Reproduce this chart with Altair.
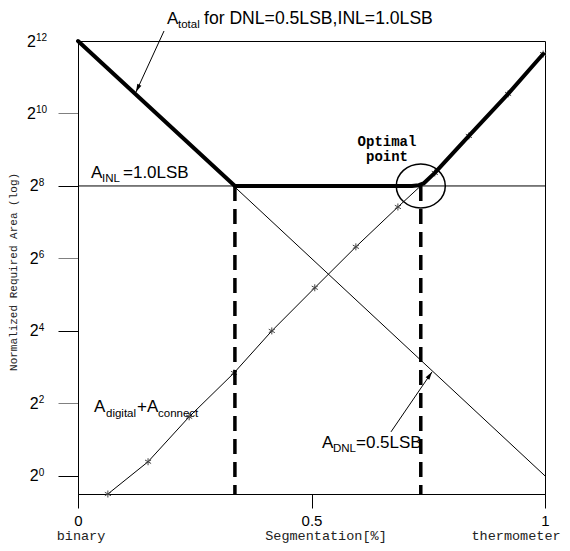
import math
import altair as alt
import pandas as pd

# ---------------- data (x = segmentation fraction, y = log2 of normalized area) -------------
seg_digital = [0.064, 0.150, 0.238, 0.334, 0.415, 0.507, 0.595, 0.685, 0.764, 0.837, 0.921, 0.996]
log2_digital = [-0.50, 0.39, 1.63, 2.84, 4.00, 5.19, 6.32, 7.42, 8.36, 9.38, 10.54, 11.64]

seg_total = [0.0, 0.336, 0.715, 0.730, 0.740, 0.764, 0.837, 0.921, 0.996]
log2_total = [12.0, 8.0, 8.0, 8.02, 8.07, 8.36, 9.38, 10.54, 11.64]

seg_dnl = [0.0, 1.0]
log2_dnl = [12.0, 0.0]

seg_inl = [0.0, 1.0]
log2_inl = [8.0, 8.0]

seg_split = [0.336, 0.734]          # dashed verticals
split_top = 8.0
optimal_seg = [0.734]
optimal_log2 = [8.0]

x_tick_values = [0, 0.5, 1]
y_tick_values = [0, 2, 4, 6, 8, 10]
y_label_exps = [0, 2, 4, 6, 8, 10, 12]

# annotation texts (main size / subscript size)
big_text = ["A", "A", "=1.0LSB", "A", "+", "A", "A", "=0.5LSB"]
big_x = [0.1906, 0.0278, 0.0964, 0.0343, 0.1263, 0.1478, 0.5225, 0.5953]
big_y = [12.469, 8.221, 8.221, 1.766, 1.766, 1.766, 0.772, 0.772]

long_text = ["for DNL=0.5LSB,INL=1.0LSB"]
long_x = [0.2698]
long_y = [12.469]

sub_text = ["total", "INL", "digital", "connect", "DNL"]
sub_x = [0.2141, 0.0514, 0.0600, 0.1713, 0.5460]
sub_y = [12.359, 8.110, 1.628, 1.628, 0.662]

opt_text = ["Optimal", "point"]
opt_x = [0.6617, 0.6617]
opt_y = [9.103, 8.69]

word_text = ["binary", "Segmentation[%]", "thermometer"]
word_x = [0.0064, 0.531, 0.9380]
word_y = [-1.769, -1.769, -1.769]

ytitle_text = ["Normalized Required Area (log)"]
ytitle_x = [-0.1381]
ytitle_y = [5.628]

arrow_tail_x = [0.1842, 0.6702]
arrow_tail_y = [12.276, 1.214]
arrow_head_x = [0.1242, 0.758]
arrow_head_y = [10.593, 2.869]

# ---------------- layout ----------------
W, H = 467, 453
X_DOM = [0, 1]
Y_DOM = [-0.5, 12]
PX_X = W / (X_DOM[1] - X_DOM[0])
PX_Y = H / (Y_DOM[1] - Y_DOM[0])

SANS = "Liberation Sans"
MONO = "Liberation Mono"

xs = alt.Scale(domain=X_DOM, nice=False, zero=False)
ys = alt.Scale(domain=Y_DOM, nice=False, zero=False)

x_axis = alt.Axis(values=x_tick_values, tickSize=14, labelFont=SANS, labelFontSize=15,
                  labelColor="black", labelPadding=5, format="~g", title=None,
                  domainColor="black", tickColor="black", grid=False, labelFlush=False)
y_axis = alt.Axis(values=y_tick_values, tickSize=20, labels=False, title=None,
                  domainColor="black", grid=False,
                  tickColor={"condition": {"test": "datum.value == 0 || datum.value == 4 || datum.value == 8",
                                           "value": "black"}, "value": "#808080"})


def X(field):
    return alt.X(field, type="quantitative", scale=xs, axis=x_axis)


def Y(field):
    return alt.Y(field, type="quantitative", scale=ys, axis=y_axis)


def line_df(xv, yv):
    return pd.DataFrame({"x": xv, "y": yv, "o": list(range(len(xv)))})


layers = []

# thin DNL and INL lines
layers.append(alt.Chart(line_df(seg_dnl, log2_dnl)).mark_line(color="black", strokeWidth=1)
              .encode(x=X("x"), y=Y("y"), order="o:Q"))
layers.append(alt.Chart(line_df(seg_inl, log2_inl)).mark_line(color="black", strokeWidth=1)
              .encode(x=X("x"), y=Y("y"), order="o:Q"))

# digital + connect curve with asterisks
layers.append(alt.Chart(line_df(seg_digital, log2_digital)).mark_line(color="black", strokeWidth=1)
              .encode(x=X("x"), y=Y("y"), order="o:Q"))
ASTERISK = "M0,-1L0,1M-0.87,-0.5L0.87,0.5M-0.87,0.5L0.87,-0.5"
layers.append(alt.Chart(line_df(seg_digital, log2_digital))
              .mark_point(shape=ASTERISK, size=49, filled=False, color="#444444",
                          strokeWidth=1, opacity=1)
              .encode(x=X("x"), y=Y("y")))

# dashed verticals
split_df = pd.DataFrame({"x": seg_split, "y": [split_top] * len(seg_split),
                         "y2": [Y_DOM[0]] * len(seg_split)})
layers.append(alt.Chart(split_df).mark_rule(color="black", strokeWidth=3.5, strokeDash=[15, 8])
              .encode(x=X("x"), y=Y("y"), y2="y2:Q"))

# thick total line
layers.append(alt.Chart(line_df(seg_total, log2_total))
              .mark_line(color="black", strokeWidth=4, strokeJoin="round", strokeCap="round")
              .encode(x=X("x"), y=Y("y"), order="o:Q"))

# optimal point ellipse
ELLIPSE = "M-1,0A1,0.9,0,1,0,1,0A1,0.9,0,1,0,-1,0Z"
layers.append(alt.Chart(pd.DataFrame({"x": optimal_seg, "y": optimal_log2}))
              .mark_point(shape=ELLIPSE, size=49 * 49, filled=False, color="black",
                          strokeWidth=1.5, opacity=1)
              .encode(x=X("x"), y=Y("y")))

# arrows
ARROWHEAD = "M0,0L0.45,1.6L-0.45,1.6Z"
for tx, ty, hx, hy in zip(arrow_tail_x, arrow_tail_y, arrow_head_x, arrow_head_y):
    layers.append(alt.Chart(line_df([tx, hx], [ty, hy])).mark_line(color="black", strokeWidth=1)
                  .encode(x=X("x"), y=Y("y"), order="o:Q"))
    dxp = (hx - tx) * PX_X
    dyp = -(hy - ty) * PX_Y
    ang = math.degrees(math.atan2(dxp, -dyp)) % 360
    layers.append(alt.Chart(pd.DataFrame({"x": [hx], "y": [hy]}))
                  .mark_point(shape=ARROWHEAD, size=100, filled=True, color="black",
                              opacity=1, angle=ang)
                  .encode(x=X("x"), y=Y("y")))


def text_layer(xv, yv, tv, **kw):
    df = pd.DataFrame({"x": xv, "y": yv, "t": tv})
    return alt.Chart(df).mark_text(**kw).encode(x=X("x"), y=Y("y"), text="t:N")


layers.append(text_layer(big_x, big_y, big_text, font=SANS, fontSize=17, align="left",
                         baseline="alphabetic", color="black"))
layers.append(text_layer(long_x, long_y, long_text, font=SANS, fontSize=17.6, align="left",
                         baseline="alphabetic", color="black"))
layers.append(text_layer(sub_x, sub_y, sub_text, font=SANS, fontSize=11.5, align="left",
                         baseline="alphabetic", color="black"))
layers.append(text_layer(opt_x, opt_y, opt_text, font=MONO, fontSize=14, fontWeight="bold",
                         align="center", baseline="alphabetic", color="black"))
layers.append(text_layer(word_x, word_y, word_text, font=MONO, fontSize=13.5, align="center",
                         baseline="alphabetic", color="#222222"))
layers.append(text_layer(ytitle_x, ytitle_y, ytitle_text, font=MONO, fontSize=11, align="center",
                         baseline="middle", angle=270, color="#222222"))

# y tick labels: 2 with superscript exponent
base_x, base_y, sup_x, sup_y, sup_t = [], [], [], [], []
for e in y_label_exps:
    s = str(e)
    bw = 0.556 * 16
    sw = 0.556 * 10 * len(s)
    left_px = 37 - (bw + sw) / 2
    base_x.append((left_px - 78) / PX_X)
    base_y.append(e - 5.5 / PX_Y)
    sup_x.append((left_px + bw - 78) / PX_X)
    sup_y.append(e)
    sup_t.append(s)
layers.append(text_layer(base_x, base_y, ["2"] * len(base_x), font=SANS, fontSize=16,
                         align="left", baseline="alphabetic", color="black"))
layers.append(text_layer(sup_x, sup_y, sup_t, font=SANS, fontSize=10,
                         align="left", baseline="alphabetic", color="black"))

chart = (alt.layer(*layers)
         .properties(width=W, height=H,
                     padding={"left": 70, "top": 33, "right": 17, "bottom": 49},
                     autosize=alt.AutoSizeParams(type="none"),
                     background="white")
         .configure_view(stroke="black", strokeWidth=1))

chart.save("out.html", embed_options={"renderer": "svg", "actions": False})
